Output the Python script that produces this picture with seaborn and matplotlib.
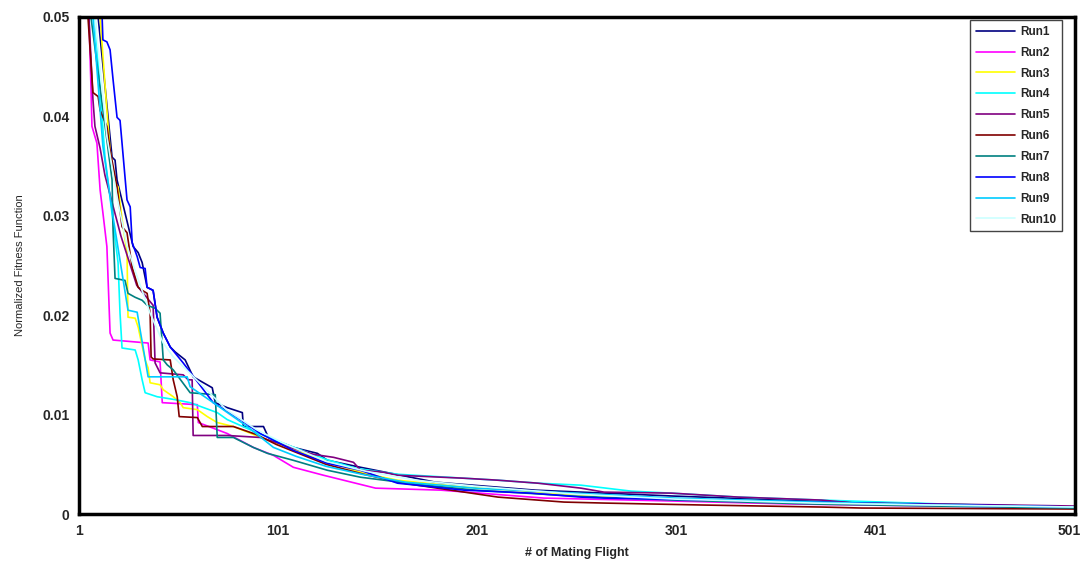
import pandas as pd
import matplotlib
matplotlib.use("Agg")
import matplotlib.pyplot as plt
import matplotlib.transforms as mtransforms
import seaborn as sns

# Values (flight number, normalized fitness)
run1_x = [1, 10.6, 17.6, 19.1, 20.1, 28.2, 30.7, 32.7, 35.2, 38.2, 40.2, 43.3, 46.8, 49.3, 54.3, 58.3,
          67.9, 69.4, 75.4, 83, 83.5, 93.6, 96.1, 108.6, 120.7, 125.7, 142.3, 180, 230, 300, 370, 430, 501]
run1_y = [0.085, 0.05, 0.0359, 0.0356, 0.0336, 0.0269, 0.0263, 0.0253, 0.0228, 0.0225, 0.0198, 0.0182,
          0.0168, 0.0163, 0.0155, 0.0138, 0.0127, 0.0112, 0.0107, 0.0102, 0.0088, 0.0088, 0.0077, 0.0067,
          0.0061, 0.0054, 0.0047, 0.0032, 0.0024, 0.0018, 0.0013, 0.001, 0.0007]

run2_x = [1, 6, 7, 7.5, 10, 11.6, 13, 15, 16.6, 18.1, 35.7, 36.7, 41.7, 42.8, 60.4, 60.9, 75.4, 88.5,
          98.6, 108.6, 123.7, 149.9, 182.6, 234.4, 300, 360, 430, 501]
run2_y = [0.075, 0.05, 0.043, 0.039, 0.0373, 0.0326, 0.0303, 0.0269, 0.0182, 0.0175, 0.0172, 0.0155,
          0.0153, 0.0112, 0.011, 0.0092, 0.0081, 0.0067, 0.0059, 0.0047, 0.0039, 0.0026, 0.0024, 0.0016,
          0.0013, 0.001, 0.0008, 0.0006]

run3_x = [1, 11.6, 15, 16.6, 19.1, 20.6, 23.1, 25.1, 25.6, 29.2, 30.7, 34.2, 35.7, 36.7, 41.7, 43.3,
          48.3, 51.8, 53.3, 60.4, 65.4, 70.4, 78.5, 95, 110, 125, 143.9, 160.9, 194.2, 219.3, 253, 281.7,
          314.9, 365, 430, 501]
run3_y = [0.085, 0.05, 0.0406, 0.0366, 0.0333, 0.0329, 0.0289, 0.0263, 0.0198, 0.0197, 0.0188, 0.0155,
          0.0147, 0.0132, 0.013, 0.0125, 0.0118, 0.0112, 0.0107, 0.0105, 0.0098, 0.0092, 0.0088, 0.0075,
          0.0064, 0.0053, 0.0041, 0.0034, 0.0027, 0.0024, 0.0019, 0.0017, 0.0014, 0.0011, 0.0009, 0.0007]

run4_x = [1, 9, 14, 20.6, 21.6, 22.6, 29.2, 30.7, 32.7, 34.2, 40.2, 49.3, 56.8, 70.4, 75.4, 90, 105,
          125, 140, 153.9, 160.9, 194.2, 211.3, 231.4, 253, 278.2, 298, 332, 373.7, 435.6, 501]
run4_y = [0.08, 0.05, 0.036, 0.0253, 0.0202, 0.0167, 0.0165, 0.0155, 0.0135, 0.0122, 0.0118, 0.0115,
          0.0112, 0.0102, 0.0095, 0.0082, 0.007, 0.0055, 0.0046, 0.0042, 0.004, 0.0036, 0.0034, 0.0031,
          0.0029, 0.0023, 0.0021, 0.0017, 0.0014, 0.001, 0.0007]

run5_x = [1, 6, 8, 9, 11.6, 14, 22, 30, 38.2, 39.2, 41.7, 53.3, 55.8, 57.8, 58.3, 62.9, 75.4, 92, 100,
          108.6, 118.7, 128.8, 138.8, 142.3, 153.9, 160.9, 194.2, 211.3, 231.4, 253, 264.6, 298.3, 332,
          373.7, 390.3, 435.6, 501]
run5_y = [0.08, 0.05, 0.0417, 0.039, 0.0368, 0.0341, 0.028, 0.023, 0.021, 0.0152, 0.0142, 0.014, 0.0135,
          0.0135, 0.0079, 0.0079, 0.0079, 0.0077, 0.0072, 0.0066, 0.006, 0.0057, 0.0052, 0.0044, 0.0042,
          0.0039, 0.0036, 0.0034, 0.0031, 0.0026, 0.0022, 0.0021, 0.0017, 0.0014, 0.0011, 0.001, 0.0008]

run6_x = [1, 5.5, 8, 10.6, 11.6, 15, 16.6, 20.1, 22.6, 25.1, 27.7, 30.7, 32.7, 35.2, 36.7, 37.2, 38.2,
          46.8, 48.3, 50.3, 51.3, 60.4, 62.9, 78.5, 90, 100, 110, 125, 143.9, 164, 177.6, 211.3, 244.5,
          264.6, 314.9, 373.7, 393.9, 501]
run6_y = [0.08, 0.05, 0.0424, 0.042, 0.0406, 0.039, 0.0366, 0.0329, 0.0289, 0.0283, 0.0248, 0.0228,
          0.0225, 0.0222, 0.0202, 0.0158, 0.0156, 0.0155, 0.0135, 0.0118, 0.0098, 0.0097, 0.0088, 0.0088,
          0.008, 0.007, 0.0062, 0.005, 0.004, 0.0031, 0.0027, 0.0017, 0.0012, 0.0011, 0.0009, 0.0007,
          0.0006, 0.0005]

run7_x = [1, 7, 17.6, 18.1, 19.1, 24.1, 25.6, 29.2, 32.7, 35.2, 39.2, 41.7, 43.3, 45.3, 48.3, 56.8,
          69.4, 70.4, 78.5, 88.5, 95.6, 108.6, 125.7, 142.3, 170, 200, 250, 300, 370, 430, 501]
run7_y = [0.08, 0.05, 0.0336, 0.0286, 0.0237, 0.0235, 0.0222, 0.0218, 0.0215, 0.021, 0.0207, 0.0202,
          0.0155, 0.015, 0.0145, 0.0122, 0.012, 0.0077, 0.0077, 0.0067, 0.0061, 0.0054, 0.0044, 0.0037,
          0.003, 0.0024, 0.0018, 0.0014, 0.001, 0.0008, 0.0006]

run8_x = [1, 12.6, 13, 15, 16.6, 18.1, 20.1, 21.6, 25.1, 26.7, 27.7, 30.2, 31.7, 34.2, 35.2, 38.2,
          40.2, 43.3, 46.8, 53.3, 68.4, 82, 92, 108.6, 125.7, 142.3, 160.9, 194.2, 227.9, 253, 264.6,
          373.7, 390.3, 501]
run8_y = [0.09, 0.05, 0.0477, 0.0475, 0.0467, 0.0437, 0.0399, 0.0396, 0.0316, 0.0309, 0.0273, 0.0259,
          0.0248, 0.0247, 0.0228, 0.0225, 0.0198, 0.0182, 0.0168, 0.0152, 0.0112, 0.0095, 0.0081, 0.0064,
          0.0051, 0.0044, 0.0031, 0.0024, 0.0021, 0.0017, 0.0016, 0.0012, 0.0011, 0.0007]

run9_x = [1, 8, 13, 18, 22, 25.6, 30.2, 31.7, 35.7, 55.3, 56.8, 68.4, 85.5, 98.6, 110, 125, 143, 165,
          200, 250, 300, 370, 430, 501]
run9_y = [0.08, 0.05, 0.037, 0.03, 0.025, 0.0205, 0.0203, 0.0185, 0.0138, 0.0138, 0.0128, 0.0112,
          0.0088, 0.0067, 0.0058, 0.0048, 0.004, 0.0032, 0.0026, 0.0021, 0.0016, 0.0012, 0.0009, 0.0007]

run10_x = [1, 9, 15, 20, 25, 30, 36.7, 43.3, 48.3, 55, 65, 75, 90, 105, 125, 145, 170, 200, 250, 300,
           370, 430, 501]
run10_y = [0.08, 0.05, 0.038, 0.032, 0.027, 0.024, 0.0202, 0.0172, 0.0158, 0.0145, 0.0125, 0.0105,
           0.0085, 0.007, 0.0053, 0.0043, 0.0034, 0.0028, 0.002, 0.0015, 0.0011, 0.0009, 0.0007]

run_names = ["Run1", "Run2", "Run3", "Run4", "Run5", "Run6", "Run7", "Run8", "Run9", "Run10"]
run_colors = ["#000080", "#FF00FF", "#FFFF00", "#00FFFF", "#800080",
              "#800000", "#008080", "#0000FF", "#00CCFF", "#CCFFFF"]

x_ticks = [1, 101, 201, 301, 401, 501]
y_ticks = [0, 0.01, 0.02, 0.03, 0.04, 0.05]
y_tick_labels = ["0", "0.01", "0.02", "0.03", "0.04", "0.05"]

# Build a long table for seaborn
runs_x = [run1_x, run2_x, run3_x, run4_x, run5_x, run6_x, run7_x, run8_x, run9_x, run10_x]
runs_y = [run1_y, run2_y, run3_y, run4_y, run5_y, run6_y, run7_y, run8_y, run9_y, run10_y]
frames = []
for name, xs, ys in zip(run_names, runs_x, runs_y):
    frames.append(pd.DataFrame({"run": name, "flight": xs, "fitness": ys}))
df = pd.concat(frames, ignore_index=True)

sns.set_theme(style="white")
plt.rcParams['font.family'] = ['Liberation Sans', 'DejaVu Sans']

fig = plt.figure(figsize=(10.82, 5.64), dpi=100)
ax = fig.add_axes([79 / 1082, 1 - 514 / 564, 996 / 1082, 497 / 564])

sns.lineplot(data=df, x="flight", y="fitness", hue="run", hue_order=run_names,
             palette=run_colors, estimator=None, sort=False, linewidth=1.2, ax=ax)

ax.set_xlim(1, 501)
ax.set_ylim(0, 0.05)
ax.set_xticks(x_ticks)
ax.set_xticklabels([str(t) for t in x_ticks], fontweight='bold', fontsize=10)
ax.set_yticks(y_ticks)
ax.set_yticklabels(y_tick_labels, fontweight='bold', fontsize=10)
ax.tick_params(axis='both', direction='out', length=5, width=1.2, color='black', pad=2)

# last x label sits at the figure edge, nudge it left a bit
last = ax.get_xticklabels()[-1]
last.set_transform(last.get_transform() + mtransforms.ScaledTranslation(-6 / 100, 0, fig.dpi_scale_trans))

ax.set_xlabel("# of Mating Flight", fontweight='bold', fontsize=9, labelpad=7)
ax.set_ylabel("Normalized Fitness Function", fontsize=8, labelpad=12)

for side in ['left', 'bottom', 'right', 'top']:
    ax.spines[side].set_visible(True)
    ax.spines[side].set_color('black')
    ax.spines[side].set_linewidth(2.5)

handles, labels = ax.get_legend_handles_labels()
leg = ax.legend(handles, labels, loc='upper right',
                bbox_to_anchor=(1 - 13 / 996, 1 - 3 / 497), borderaxespad=0,
                fancybox=False, framealpha=1, edgecolor='#444444',
                prop={'weight': 'bold', 'size': 8.5}, labelspacing=0.75,
                handlelength=3.3, handletextpad=0.4, borderpad=0.5)
leg.get_frame().set_linewidth(1.0)
for line in leg.get_lines():
    line.set_linewidth(1.2)

fig.savefig("out.png", dpi=100)
